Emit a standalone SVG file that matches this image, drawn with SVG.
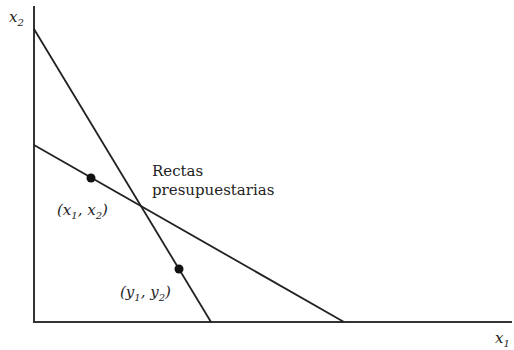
<svg xmlns="http://www.w3.org/2000/svg" width="514" height="350" viewBox="0 0 514 350">
<style>
.ln{stroke:#222;stroke-width:1.8;fill:none}
.ax{stroke:#333;stroke-width:2;fill:none}
.t{font-family:"DejaVu Serif","Liberation Serif",serif;font-size:15px;fill:#222}
.i{font-style:italic}
.s{font-size:10px}
</style>
<rect width="514" height="350" fill="#fff"/>
<g id="axes">
<path class="ax" d="M34 6 V322 H512"/>
<text class="t i" x="9" y="22">x<tspan class="s" dy="4">2</tspan></text>
<text class="t i" x="495" y="343">x<tspan class="s" dy="4">1</tspan></text>
</g>
<g id="connectors">
<line class="ln" x1="34" y1="29" x2="211" y2="322"/>
<line class="ln" x1="34" y1="145" x2="344" y2="322"/>
</g>
<g id="point-x">
<circle cx="91" cy="178" r="4.5" fill="#111"/>
<text class="t i" x="57" y="215">(x<tspan class="s" dy="4">1</tspan><tspan dy="-4">, x</tspan><tspan class="s" dy="4">2</tspan><tspan dy="-4">)</tspan></text>
</g>
<g id="point-y">
<circle cx="179" cy="269" r="4.5" fill="#111"/>
<text class="t i" x="120" y="297">(y<tspan class="s" dy="4">1</tspan><tspan dy="-4">, y</tspan><tspan class="s" dy="4">2</tspan><tspan dy="-4">)</tspan></text>
</g>
<g id="label">
<text class="t" x="152" y="176">Rectas</text>
<text class="t" x="152" y="195">presupuestarias</text>
</g>
</svg>
